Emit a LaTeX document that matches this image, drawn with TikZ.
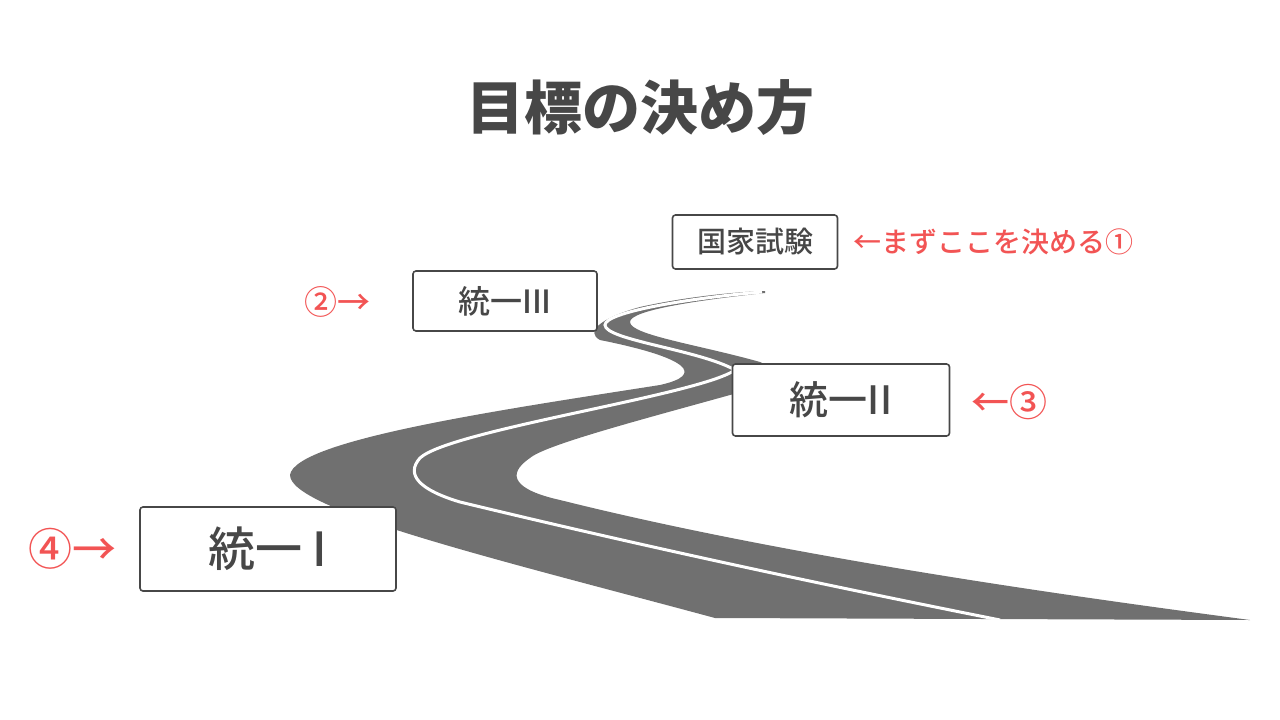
\documentclass[tikz,border=0pt]{standalone}
\usepackage{fontspec}
\newfontfamily\jp{Noto Sans CJK JP Medium}
\newfontfamily\jpbold{Noto Sans CJK JP Black}
\usetikzlibrary{positioning}
\definecolor{roadgray}{HTML}{707070}
\definecolor{inkgray}{HTML}{474747}
\definecolor{notered}{HTML}{F25454}
\tikzset{
  signbox/.style={draw=inkgray, line width=1.6pt, rounded corners=3pt, fill=white, text=inkgray, font=\jp},
  note/.style={text=notered, font=\jp}
}
\begin{document}
\begin{tikzpicture}[x=1pt, y=-1pt]
    \useasboundingbox (0,0) rectangle (1280,720);

    % road
    \fill[roadgray] (715,618) .. controls (500,560) and (290,510) .. (290,475)
        .. controls (295,440) and (500,410) .. (660,385)
        .. controls (705,375) and (690,358) .. (600,340)
        .. controls (585,332) and (600,318) .. (640,307)
        .. controls (680,298) and (730,292) .. (765,291)
        -- (765,293) .. controls (700,300) and (630,310) .. (630,322)
        .. controls (630,335) and (700,345) .. (760,362)
        .. controls (790,375) and (760,388) .. (730,395)
        .. controls (640,420) and (545,445) .. (530,458)
        .. controls (505,475) and (515,490) .. (560,500)
        .. controls (800,560) and (1100,600) .. (1250,620) -- cycle;
    \draw[white, line width=3pt] (762,292) .. controls (690,298) and (605,312) .. (605,325)
        .. controls (605,340) and (700,350) .. (735,370)
        .. controls (700,395) and (450,430) .. (420,458)
        .. controls (405,475) and (420,490) .. (460,502)
        .. controls (700,560) and (900,600) .. (1000,620);

    % title
    \node[text=inkgray, font=\jpbold\fontsize{58}{62}\selectfont] (title) at (640,108) {目標の決め方};

    % signs
    \node[signbox, minimum width=165, minimum height=54, font=\jp\fontsize{29}{32}\selectfont] (exam) at (755,242) {国家試験};
    \node[signbox, minimum width=184, minimum height=60, font=\jp\fontsize{32}{35}\selectfont] (step3) at (505,301) {統一III};
    \node[signbox, minimum width=217, minimum height=72, font=\jp\fontsize{39}{42}\selectfont] (step2) at (841,400) {統一II};
    \node[signbox, minimum width=256, minimum height=84, font=\jp\fontsize{47}{50}\selectfont] (step1) at (268,549) {統一 I};

    % notes
    \node[note, anchor=west, font=\jp\fontsize{28}{31}\selectfont] (n1) at (850,242) {←まずここを決める①};
    \node[note, font=\jp\fontsize{33}{36}\selectfont] (n2) at (337,302) {②→};
    \node[note, font=\jp\fontsize{38}{41}\selectfont] (n3) at (1009,402) {←③};
    \node[note, font=\jp\fontsize{44}{47}\selectfont] (n4) at (72,549) {④→};
\end{tikzpicture}
\end{document}
